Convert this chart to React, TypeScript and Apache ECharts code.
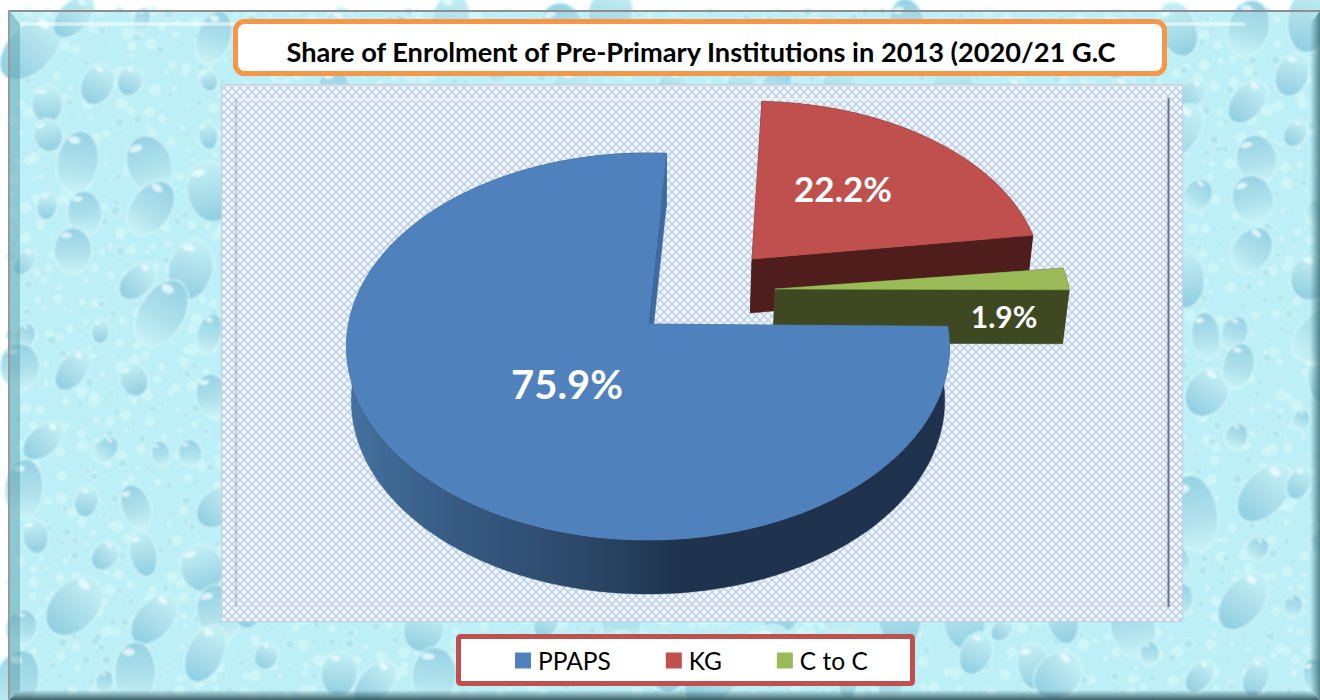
import React, { useEffect, useRef } from "react";
import * as echarts from "echarts";

// ---------- data ----------
const categories = ["PPAPS", "KG", "C to C"];
const shares = [75.9, 22.2, 1.9];
const chartTitle = "Share of Enrolment of Pre-Primary Institutions in 2013 (2020/21 G.C";

// ---------- styling ----------
const topColors = ["#4f81bd", "#c0504d", "#9bbb59"];
const wallColors = ["#3d6a9f", "#4f1d1c", "#3f4921"];
const seriesZ = [5, 3, 4];
const firstSliceAngle = 90.26;
const FONT = "Lato, Carlito, Calibri, sans-serif";

// exploded-slice layout: apex, radii, perspective, label spot and size
const sliceLayout = [
  { ax: 648, ay: 324, rx: 299.5, ry: 190.9, turn: 0.45, lx: 567, ly: 384, fs: 40 },
  { ax: 752, ay: 259, rx: 288, ry: 176, turn: -1.3, lx: 843, ly: 188, fs: 35 },
  { ax: 775, ay: 289, rx: 294, ry: 185, turn: 0, lx: 1004, ly: 316, fs: 30 },
];
const PERSPECTIVE = 0.1163;
const DEPTH = 54;
const LOWER_SCALE = 0.984;
const VANISH_X = 648;

const blueWall = {
  type: "linear",
  x: 344,
  y: 0,
  x2: 950,
  y2: 0,
  global: true,
  colorStops: [
    { offset: 0, color: "#44729f" },
    { offset: 0.19, color: "#365a82" },
    { offset: 0.4, color: "#2b4768" },
    { offset: 0.55, color: "#1f334f" },
    { offset: 1, color: "#1e324e" },
  ],
};

function project(l: any, deg: number, lower: boolean): number[] {
  const t = ((deg + l.turn) * Math.PI) / 180;
  const u = Math.sin(t);
  const v = Math.cos(t);
  const s = 1 / (1 + PERSPECTIVE * v);
  let x = l.ax + l.rx * u * s;
  let y = l.ay - l.ry * v * s;
  if (lower) {
    x = VANISH_X + (x - VANISH_X) * LOWER_SCALE;
    y += DEPTH;
  }
  return [x, y];
}
function apex(l: any, lower: boolean): number[] {
  if (!lower) return [l.ax, l.ay];
  return [VANISH_X + (l.ax - VANISH_X) * LOWER_SCALE, l.ay + DEPTH];
}

function renderSlice(index: number) {
  return (_params: any, api: any) => {
    const value = api.value(0);
    const total = shares.reduce((a, b) => a + b, 0);
    let before = 0;
    for (let i = 0; i < index; i++) before += shares[i];
    const a0 = firstSliceAngle + (before / total) * 360;
    const a1 = a0 + (value / total) * 360;
    const l = sliceLayout[index];
    const upper: number[][] = [];
    const lower: number[][] = [];
    const n = Math.max(2, Math.ceil(a1 - a0));
    for (let i = 0; i <= n; i++) {
      const d = a0 + ((a1 - a0) * i) / n;
      upper.push(project(l, d, false));
      lower.push(project(l, d, true));
    }
    const A = apex(l, false);
    const B = apex(l, true);
    const wall = wallColors[index];
    const outerFill = index === 0 ? blueWall : wall;
    const poly = (points: number[][], fill: any) => ({
      type: "polygon",
      shape: { points },
      style: { fill, stroke: fill, lineWidth: 0.5 },
    });
    return {
      type: "group",
      children: [
        poly([...upper, ...lower.slice().reverse()], outerFill),
        poly([A, upper[0], lower[0], B], wall),
        poly([A, upper[n], lower[n], B], wall),
        poly([A, ...upper], topColors[index]),
        {
          type: "text",
          x: l.lx,
          y: l.ly,
          style: {
            text: value.toFixed(1) + "%",
            fill: "#ffffff",
            fontFamily: FONT,
            fontWeight: "bold",
            fontSize: l.fs,
            align: "center",
            verticalAlign: "middle",
          },
        },
      ],
    };
  };
}

// ---------- decorative water-drop backdrop (not data) ----------
function buildBackdrop(): string {
  let seed = 20210;
  const rnd = () => {
    seed = (seed * 16807) % 2147483647;
    return seed / 2147483647;
  };
  let veins = "";
  let drops = "";
  const inPlot = (x: number, y: number) => x > 270 && x < 1135 && y > 130 && y < 580;
  for (let gy = 10; gy < 700; gy += 15) {
    for (let gx = 10; gx < 1320; gx += 15) {
      const x = gx + rnd() * 13;
      const y = gy + rnd() * 13;
      const r = 1.5 + rnd() * 4.5;
      if (inPlot(x, y)) continue;
      veins += `<circle cx="${x.toFixed(1)}" cy="${y.toFixed(1)}" r="${r.toFixed(1)}" fill="#d6fafb" opacity="0.7"/>`;
      if (rnd() < 0.4) {
        const rr = r * 0.7;
        drops += `<ellipse cx="${x.toFixed(1)}" cy="${y.toFixed(1)}" rx="${rr.toFixed(1)}" ry="${rr.toFixed(1)}" fill="#a4dfe9" opacity="0.7"/>`;
      }
    }
  }
  for (let gy = 14; gy < 690; gy += 58) {
    for (let gx = 14; gx < 1310; gx += 58) {
      const x = gx + rnd() * 36;
      const y = gy + rnd() * 36;
      if (inPlot(x, y)) continue;
      const rx = 8 + rnd() * 15;
      const ry = rx * (1.15 + rnd() * 0.6);
      const rot = -20 + rnd() * 70;
      const f = rnd() < 0.6 ? "dg" : "dg2";
      drops += `<g transform="translate(${x.toFixed(1)} ${y.toFixed(1)}) rotate(${rot.toFixed(0)})">` +
        `<ellipse rx="${(rx + 1.5).toFixed(1)}" ry="${(ry + 1.5).toFixed(1)}" fill="#d6fafb" opacity="0.8"/>` +
        `<ellipse rx="${rx.toFixed(1)}" ry="${ry.toFixed(1)}" fill="url(#${f})"/>` +
        `<ellipse cx="${(-rx * 0.35).toFixed(1)}" cy="${(-ry * 0.68).toFixed(1)}" rx="${(rx * 0.3).toFixed(1)}" ry="${(ry * 0.12).toFixed(1)}" fill="#f0feff" opacity="0.75"/>` +
        `</g>`;
    }
  }
  const svg = `<svg xmlns="http://www.w3.org/2000/svg" width="1320" height="700" viewBox="0 0 1320 700">
<defs>
<linearGradient id="dg" x1="0" y1="0" x2="0" y2="1"><stop offset="0" stop-color="#c4f1f6"/><stop offset="0.5" stop-color="#addfea"/><stop offset="1" stop-color="#8fcfe1"/></linearGradient>
<linearGradient id="dg2" x1="0" y1="0" x2="0" y2="1"><stop offset="0" stop-color="#96d2e3"/><stop offset="0.6" stop-color="#b0e2ec"/><stop offset="1" stop-color="#c9f3f7"/></linearGradient>
<linearGradient id="bR" x1="0" y1="0" x2="1" y2="0"><stop offset="0" stop-color="#3f747c" stop-opacity="0"/><stop offset="1" stop-color="#3f747c" stop-opacity="0.85"/></linearGradient>
<linearGradient id="bB" x1="0" y1="0" x2="0" y2="1"><stop offset="0" stop-color="#33595f" stop-opacity="0"/><stop offset="1" stop-color="#33595f" stop-opacity="0.95"/></linearGradient>
<pattern id="hatch" width="8" height="8" patternUnits="userSpaceOnUse"><rect width="8" height="8" fill="#f0f7fc"/><path d="M0 0L8 8M8 0L0 8" stroke="#bccbe4" stroke-width="1.3"/></pattern>
<filter id="soft" x="0" y="0" width="100%" height="100%"><feGaussianBlur stdDeviation="1.3"/></filter>
</defs>
<rect width="1320" height="700" fill="#ffffff"/>
<g filter="url(#soft)"><rect x="9" y="11" width="1311" height="689" fill="#bdeff6"/>${veins}${drops}</g>
<rect x="20" y="22" width="1225" height="4" fill="#ffffff" opacity="0.5"/>
<polygon points="9,11 20,24 20,690 9,700" fill="#4f99a6" opacity="0.45"/>
<polygon points="1320,11 1310,24 1310,690 1320,700" fill="url(#bR)"/>
<polygon points="9,700 20,690 1310,690 1320,700" fill="url(#bB)"/>
<rect x="8" y="10" width="1312" height="2" fill="#8f8f8f"/>
<rect x="8" y="10" width="2" height="690" fill="#9a9a9a"/>
<rect x="221" y="84" width="962" height="538" fill="url(#hatch)"/>
<rect x="221.5" y="84.5" width="961" height="537" fill="none" stroke="#c4cfe2" stroke-width="1"/>
<rect x="236" y="98" width="932" height="2" fill="#e9eff4"/>
<rect x="236" y="605" width="932" height="2" fill="#d5dce6"/>
<rect x="235.5" y="98" width="1.2" height="509" fill="#a6b0c4"/>
<rect x="1167.5" y="98" width="2" height="509" fill="#6c7284"/>
</svg>`;
  return `url("data:image/svg+xml,${encodeURIComponent(svg)}")`;
}

export default function App() {
  const ref = useRef<HTMLDivElement>(null);
  useEffect(() => {
    const chart = echarts.init(ref.current!, undefined, { renderer: "svg" });
    chart.setOption({
      animation: false,
      backgroundColor: "transparent",
      title: {
        text: chartTitle,
        left: 696,
        top: 33,
        textAlign: "center",
        textStyle: { fontFamily: FONT, fontWeight: "bold", fontSize: 27.2, color: "#000000" },
        z: 6,
      },
      legend: {
        data: categories,
        left: 510,
        top: 643,
        itemWidth: 16,
        itemHeight: 16,
        itemGap: 55,
        icon: "rect",
        selectedMode: false,
        textStyle: { fontFamily: FONT, fontSize: 24.5, color: "#000000", padding: [0, 0, 0, 2] },
        z: 6,
      },
      graphic: [
        {
          type: "rect",
          z: 1,
          shape: { x: 235.5, y: 21.5, width: 929, height: 52, r: 9 },
          style: { fill: "#ffffff", stroke: "#f79646", lineWidth: 5 },
        },
        {
          type: "rect",
          z: 1,
          shape: { x: 458.5, y: 636.5, width: 454, height: 47, r: 2 },
          style: { fill: "#ffffff", stroke: "#c0504d", lineWidth: 5 },
        },
      ],
      series: categories.map((name, i) => ({
        type: "custom",
        name,
        coordinateSystem: "none",
        z: seriesZ[i],
        silent: true,
        itemStyle: { color: topColors[i] },
        data: [shares[i]],
        renderItem: renderSlice(i),
      })),
    });
    return () => chart.dispose();
  }, []);
  return (
    <div
      style={{
        position: "absolute",
        left: 0,
        top: 0,
        width: 1320,
        height: 700,
        overflow: "hidden",
        backgroundImage: buildBackdrop(),
      }}
    >
      <div ref={ref} style={{ width: 1320, height: 700 }} />
    </div>
  );
}
